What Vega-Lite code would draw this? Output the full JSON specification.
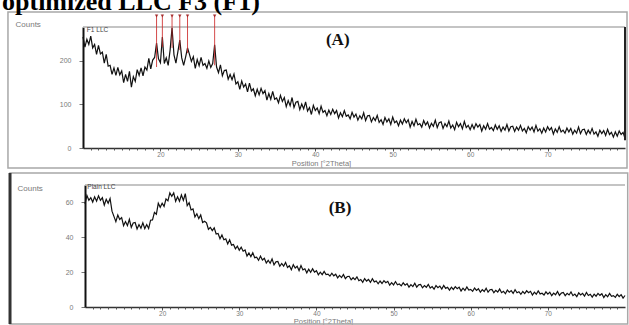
{
  "$schema": "https://vega.github.io/schema/vega-lite/v6.json",
  "width": 629,
  "height": 325,
  "autosize": {"type": "none"},
  "padding": 0,
  "background": "white",
  "config": {
    "view": {"stroke": null},
    "axis": {
      "grid": false,
      "labelFont": "Liberation Sans",
      "titleFont": "Liberation Sans",
      "labelColor": "#7a7a7a",
      "titleColor": "#7a7a7a",
      "labelFontSize": 7,
      "titleFontSize": 8,
      "titleFontWeight": "normal",
      "labelOverlap": false,
      "labelFlush": false
    }
  },
  "datasets": {
    "panelA": [
      {"two_theta":10,"counts":255},{"two_theta":10.25,"counts":232},{"two_theta":10.5,"counts":250},{"two_theta":10.75,"counts":238},{"two_theta":11,"counts":257},{"two_theta":11.25,"counts":230},{"two_theta":11.5,"counts":238},{"two_theta":11.75,"counts":215},{"two_theta":12,"counts":236},{"two_theta":12.25,"counts":216},{"two_theta":12.5,"counts":220},{"two_theta":12.75,"counts":195},{"two_theta":13,"counts":215},{"two_theta":13.25,"counts":188},{"two_theta":13.5,"counts":190},{"two_theta":13.75,"counts":169},{"two_theta":14,"counts":184},{"two_theta":14.25,"counts":167},{"two_theta":14.5,"counts":185},{"two_theta":14.75,"counts":168},{"two_theta":15,"counts":177},{"two_theta":15.25,"counts":150},{"two_theta":15.5,"counts":169},{"two_theta":15.75,"counts":153},{"two_theta":16,"counts":176},{"two_theta":16.25,"counts":140},{"two_theta":16.5,"counts":164},{"two_theta":16.75,"counts":153},{"two_theta":17,"counts":180},{"two_theta":17.25,"counts":167},{"two_theta":17.5,"counts":184},{"two_theta":17.75,"counts":166},{"two_theta":18,"counts":186},{"two_theta":18.25,"counts":179},{"two_theta":18.5,"counts":206},{"two_theta":18.75,"counts":182},{"two_theta":19,"counts":202},{"two_theta":19.25,"counts":208},{"two_theta":19.5,"counts":241},{"two_theta":19.75,"counts":205},{"two_theta":20,"counts":196},{"two_theta":20.25,"counts":255},{"two_theta":20.5,"counts":194},{"two_theta":20.75,"counts":207},{"two_theta":21,"counts":190},{"two_theta":21.25,"counts":225},{"two_theta":21.5,"counts":276},{"two_theta":21.75,"counts":214},{"two_theta":22,"counts":195},{"two_theta":22.25,"counts":221},{"two_theta":22.5,"counts":248},{"two_theta":22.75,"counts":207},{"two_theta":23,"counts":190},{"two_theta":23.25,"counts":209},{"two_theta":23.5,"counts":230},{"two_theta":23.75,"counts":215},{"two_theta":24,"counts":199},{"two_theta":24.25,"counts":210},{"two_theta":24.5,"counts":183},{"two_theta":24.75,"counts":203},{"two_theta":25,"counts":189},{"two_theta":25.25,"counts":208},{"two_theta":25.5,"counts":190},{"two_theta":25.75,"counts":194},{"two_theta":26,"counts":183},{"two_theta":26.25,"counts":200},{"two_theta":26.5,"counts":185},{"two_theta":26.75,"counts":194},{"two_theta":27,"counts":237},{"two_theta":27.25,"counts":186},{"two_theta":27.5,"counts":173},{"two_theta":27.75,"counts":191},{"two_theta":28,"counts":166},{"two_theta":28.25,"counts":178},{"two_theta":28.5,"counts":179},{"two_theta":28.75,"counts":158},{"two_theta":29,"counts":169},{"two_theta":29.25,"counts":157},{"two_theta":29.5,"counts":170},{"two_theta":29.75,"counts":147},{"two_theta":30,"counts":152},{"two_theta":30.25,"counts":135},{"two_theta":30.5,"counts":154},{"two_theta":30.75,"counts":140},{"two_theta":31,"counts":147},{"two_theta":31.25,"counts":129},{"two_theta":31.5,"counts":149},{"two_theta":31.75,"counts":131},{"two_theta":32,"counts":136},{"two_theta":32.25,"counts":120},{"two_theta":32.5,"counts":135},{"two_theta":32.75,"counts":122},{"two_theta":33,"counts":137},{"two_theta":33.25,"counts":125},{"two_theta":33.5,"counts":132},{"two_theta":33.75,"counts":110},{"two_theta":34,"counts":125},{"two_theta":34.25,"counts":112},{"two_theta":34.5,"counts":130},{"two_theta":34.75,"counts":112},{"two_theta":35,"counts":115},{"two_theta":35.25,"counts":104},{"two_theta":35.5,"counts":121},{"two_theta":35.75,"counts":107},{"two_theta":36,"counts":116},{"two_theta":36.25,"counts":95},{"two_theta":36.5,"counts":109},{"two_theta":36.75,"counts":97},{"two_theta":37,"counts":116},{"two_theta":37.25,"counts":93},{"two_theta":37.5,"counts":105},{"two_theta":37.75,"counts":107},{"two_theta":38,"counts":88},{"two_theta":38.25,"counts":101},{"two_theta":38.5,"counts":90},{"two_theta":38.75,"counts":106},{"two_theta":39,"counts":85},{"two_theta":39.25,"counts":93},{"two_theta":39.5,"counts":77},{"two_theta":39.75,"counts":98},{"two_theta":40,"counts":86},{"two_theta":40.25,"counts":92},{"two_theta":40.5,"counts":79},{"two_theta":40.75,"counts":96},{"two_theta":41,"counts":82},{"two_theta":41.25,"counts":86},{"two_theta":41.5,"counts":74},{"two_theta":41.75,"counts":87},{"two_theta":42,"counts":77},{"two_theta":42.25,"counts":89},{"two_theta":42.5,"counts":79},{"two_theta":42.75,"counts":86},{"two_theta":43,"counts":69},{"two_theta":43.25,"counts":81},{"two_theta":43.5,"counts":72},{"two_theta":43.75,"counts":86},{"two_theta":44,"counts":73},{"two_theta":44.25,"counts":76},{"two_theta":44.5,"counts":67},{"two_theta":44.75,"counts":82},{"two_theta":45,"counts":71},{"two_theta":45.25,"counts":78},{"two_theta":45.5,"counts":64},{"two_theta":45.75,"counts":74},{"two_theta":46,"counts":67},{"two_theta":46.25,"counts":81},{"two_theta":46.5,"counts":63},{"two_theta":46.75,"counts":74},{"two_theta":47,"counts":75},{"two_theta":47.25,"counts":60},{"two_theta":47.5,"counts":70},{"two_theta":47.75,"counts":63},{"two_theta":48,"counts":75},{"two_theta":48.25,"counts":59},{"two_theta":48.5,"counts":65},{"two_theta":48.75,"counts":54},{"two_theta":49,"counts":70},{"two_theta":49.25,"counts":60},{"two_theta":49.5,"counts":67},{"two_theta":49.75,"counts":54},{"two_theta":50,"counts":71},{"two_theta":50.25,"counts":58},{"two_theta":50.5,"counts":62},{"two_theta":50.75,"counts":51},{"two_theta":51,"counts":64},{"two_theta":51.25,"counts":55},{"two_theta":51.5,"counts":67},{"two_theta":51.75,"counts":58},{"two_theta":52,"counts":65},{"two_theta":52.25,"counts":48},{"two_theta":52.5,"counts":61},{"two_theta":52.75,"counts":51},{"two_theta":53,"counts":66},{"two_theta":53.25,"counts":53},{"two_theta":53.5,"counts":56},{"two_theta":53.75,"counts":48},{"two_theta":54,"counts":63},{"two_theta":54.25,"counts":53},{"two_theta":54.5,"counts":60},{"two_theta":54.75,"counts":46},{"two_theta":55,"counts":57},{"two_theta":55.25,"counts":50},{"two_theta":55.5,"counts":64},{"two_theta":55.75,"counts":47},{"two_theta":56,"counts":58},{"two_theta":56.25,"counts":60},{"two_theta":56.5,"counts":45},{"two_theta":56.75,"counts":56},{"two_theta":57,"counts":49},{"two_theta":57.25,"counts":62},{"two_theta":57.5,"counts":46},{"two_theta":57.75,"counts":53},{"two_theta":58,"counts":42},{"two_theta":58.25,"counts":59},{"two_theta":58.5,"counts":49},{"two_theta":58.75,"counts":56},{"two_theta":59,"counts":44},{"two_theta":59.25,"counts":61},{"two_theta":59.5,"counts":47},{"two_theta":59.75,"counts":52},{"two_theta":60,"counts":42},{"two_theta":60.25,"counts":54},{"two_theta":60.5,"counts":44},{"two_theta":60.75,"counts":56},{"two_theta":61,"counts":48},{"two_theta":61.25,"counts":54},{"two_theta":61.5,"counts":39},{"two_theta":61.75,"counts":51},{"two_theta":62,"counts":43},{"two_theta":62.25,"counts":56},{"two_theta":62.5,"counts":43},{"two_theta":62.75,"counts":47},{"two_theta":63,"counts":40},{"two_theta":63.25,"counts":53},{"two_theta":63.5,"counts":43},{"two_theta":63.75,"counts":51},{"two_theta":64,"counts":38},{"two_theta":64.25,"counts":48},{"two_theta":64.5,"counts":41},{"two_theta":64.75,"counts":54},{"two_theta":65,"counts":39},{"two_theta":65.25,"counts":49},{"two_theta":65.5,"counts":50},{"two_theta":65.75,"counts":38},{"two_theta":66,"counts":48},{"two_theta":66.25,"counts":41},{"two_theta":66.5,"counts":52},{"two_theta":66.75,"counts":39},{"two_theta":67,"counts":45},{"two_theta":67.25,"counts":35},{"two_theta":67.5,"counts":49},{"two_theta":67.75,"counts":41},{"two_theta":68,"counts":48},{"two_theta":68.25,"counts":37},{"two_theta":68.5,"counts":52},{"two_theta":68.75,"counts":39},{"two_theta":69,"counts":44},{"two_theta":69.25,"counts":34},{"two_theta":69.5,"counts":46},{"two_theta":69.75,"counts":37},{"two_theta":70,"counts":49},{"two_theta":70.25,"counts":41},{"two_theta":70.5,"counts":47},{"two_theta":70.75,"counts":32},{"two_theta":71,"counts":44},{"two_theta":71.25,"counts":36},{"two_theta":71.5,"counts":49},{"two_theta":71.75,"counts":37},{"two_theta":72,"counts":41},{"two_theta":72.25,"counts":34},{"two_theta":72.5,"counts":46},{"two_theta":72.75,"counts":37},{"two_theta":73,"counts":45},{"two_theta":73.25,"counts":32},{"two_theta":73.5,"counts":41},{"two_theta":73.75,"counts":34},{"two_theta":74,"counts":48},{"two_theta":74.25,"counts":33},{"two_theta":74.5,"counts":42},{"two_theta":74.75,"counts":43},{"two_theta":75,"counts":31},{"two_theta":75.25,"counts":41},{"two_theta":75.5,"counts":33},{"two_theta":75.75,"counts":45},{"two_theta":76,"counts":32},{"two_theta":76.25,"counts":37},{"two_theta":76.5,"counts":27},{"two_theta":76.75,"counts":41},{"two_theta":77,"counts":33},{"two_theta":77.25,"counts":40},{"two_theta":77.5,"counts":29},{"two_theta":77.75,"counts":43},{"two_theta":78,"counts":31},{"two_theta":78.25,"counts":36},{"two_theta":78.5,"counts":25},{"two_theta":78.75,"counts":37},{"two_theta":79,"counts":27},{"two_theta":79.25,"counts":39},{"two_theta":79.5,"counts":31},{"two_theta":79.75,"counts":36},{"two_theta":80,"counts":22}
    ],
    "peaksA": [
      {"two_theta":19.5,"base":186},{"two_theta":20.25,"base":232},{"two_theta":21.5,"base":230},{"two_theta":22.5,"base":225},{"two_theta":23.5,"base":218},{"two_theta":27,"base":190}
    ],
    "panelB": [
      {"two_theta":10,"counts":59.2},{"two_theta":10.25,"counts":64.0},{"two_theta":10.5,"counts":61.2},{"two_theta":10.75,"counts":62.7},{"two_theta":11,"counts":60.2},{"two_theta":11.25,"counts":63.2},{"two_theta":11.5,"counts":60.7},{"two_theta":11.75,"counts":63.8},{"two_theta":12,"counts":61.2},{"two_theta":12.25,"counts":62.7},{"two_theta":12.5,"counts":58.5},{"two_theta":12.75,"counts":61.8},{"two_theta":13,"counts":59.5},{"two_theta":13.25,"counts":62.3},{"two_theta":13.5,"counts":55.0},{"two_theta":13.75,"counts":52.0},{"two_theta":14,"counts":49.0},{"two_theta":14.25,"counts":52.8},{"two_theta":14.5,"counts":50.2},{"two_theta":14.75,"counts":51.3},{"two_theta":15,"counts":46.7},{"two_theta":15.25,"counts":49.0},{"two_theta":15.5,"counts":46.7},{"two_theta":15.75,"counts":50.3},{"two_theta":16,"counts":45.7},{"two_theta":16.25,"counts":48.2},{"two_theta":16.5,"counts":48.5},{"two_theta":16.75,"counts":44.8},{"two_theta":17,"counts":47.3},{"two_theta":17.25,"counts":45.2},{"two_theta":17.5,"counts":48.3},{"two_theta":17.75,"counts":45.0},{"two_theta":18,"counts":47.3},{"two_theta":18.25,"counts":45.0},{"two_theta":18.5,"counts":49.8},{"two_theta":18.75,"counts":50.0},{"two_theta":19,"counts":54.3},{"two_theta":19.25,"counts":53.2},{"two_theta":19.5,"counts":59.5},{"two_theta":19.75,"counts":57.2},{"two_theta":20,"counts":59.5},{"two_theta":20.25,"counts":57.7},{"two_theta":20.5,"counts":62.0},{"two_theta":20.75,"counts":60.9},{"two_theta":21,"counts":65.5},{"two_theta":21.25,"counts":63.5},{"two_theta":21.5,"counts":65.5},{"two_theta":21.75,"counts":60.7},{"two_theta":22,"counts":63.3},{"two_theta":22.25,"counts":60.7},{"two_theta":22.5,"counts":64.3},{"two_theta":22.75,"counts":61.2},{"two_theta":23,"counts":65.0},{"two_theta":23.25,"counts":58.2},{"two_theta":23.5,"counts":59.8},{"two_theta":23.75,"counts":55.7},{"two_theta":24,"counts":56.3},{"two_theta":24.25,"counts":51.7},{"two_theta":24.5,"counts":53.5},{"two_theta":24.75,"counts":50.7},{"two_theta":25,"counts":52.8},{"two_theta":25.25,"counts":48.5},{"two_theta":25.5,"counts":49.2},{"two_theta":25.75,"counts":48.3},{"two_theta":26,"counts":44.6},{"two_theta":26.25,"counts":45.7},{"two_theta":26.5,"counts":43.8},{"two_theta":26.75,"counts":45.4},{"two_theta":27,"counts":41.9},{"two_theta":27.25,"counts":42.2},{"two_theta":27.5,"counts":39.2},{"two_theta":27.75,"counts":41.3},{"two_theta":28,"counts":38.6},{"two_theta":28.25,"counts":39.1},{"two_theta":28.5,"counts":36.2},{"two_theta":28.75,"counts":38.6},{"two_theta":29,"counts":35.5},{"two_theta":29.25,"counts":35.9},{"two_theta":29.5,"counts":33.4},{"two_theta":29.75,"counts":34.9},{"two_theta":30,"counts":32.6},{"two_theta":30.25,"counts":34.3},{"two_theta":30.5,"counts":32.0},{"two_theta":30.75,"counts":32.7},{"two_theta":31,"counts":29.2},{"two_theta":31.25,"counts":31.0},{"two_theta":31.5,"counts":28.9},{"two_theta":31.75,"counts":31.1},{"two_theta":32,"counts":28.3},{"two_theta":32.25,"counts":28.6},{"two_theta":32.5,"counts":26.8},{"two_theta":32.75,"counts":29.2},{"two_theta":33,"counts":27.0},{"two_theta":33.25,"counts":28.0},{"two_theta":33.5,"counts":25.2},{"two_theta":33.75,"counts":26.8},{"two_theta":34,"counts":25.1},{"two_theta":34.25,"counts":27.6},{"two_theta":34.5,"counts":24.2},{"two_theta":34.75,"counts":25.9},{"two_theta":35,"counts":26.1},{"two_theta":35.25,"counts":23.4},{"two_theta":35.5,"counts":25.0},{"two_theta":35.75,"counts":23.5},{"two_theta":36,"counts":25.6},{"two_theta":36.25,"counts":22.7},{"two_theta":36.5,"counts":23.7},{"two_theta":36.75,"counts":21.4},{"two_theta":37,"counts":24.3},{"two_theta":37.25,"counts":22.4},{"two_theta":37.5,"counts":23.4},{"two_theta":37.75,"counts":20.9},{"two_theta":38,"counts":23.8},{"two_theta":38.25,"counts":21.3},{"two_theta":38.5,"counts":21.9},{"two_theta":38.75,"counts":19.6},{"two_theta":39,"counts":21.7},{"two_theta":39.25,"counts":19.9},{"two_theta":39.5,"counts":21.9},{"two_theta":39.75,"counts":20.0},{"two_theta":40,"counts":20.8},{"two_theta":40.25,"counts":18.5},{"two_theta":40.5,"counts":20.0},{"two_theta":40.75,"counts":18.6},{"two_theta":41,"counts":20.4},{"two_theta":41.25,"counts":18.6},{"two_theta":41.5,"counts":18.9},{"two_theta":41.75,"counts":17.7},{"two_theta":42,"counts":19.4},{"two_theta":42.25,"counts":17.9},{"two_theta":42.5,"counts":18.8},{"two_theta":42.75,"counts":16.7},{"two_theta":43,"counts":18.1},{"two_theta":43.25,"counts":16.9},{"two_theta":43.5,"counts":18.7},{"two_theta":43.75,"counts":16.3},{"two_theta":44,"counts":17.5},{"two_theta":44.25,"counts":17.6},{"two_theta":44.5,"counts":15.6},{"two_theta":44.75,"counts":16.8},{"two_theta":45,"counts":15.7},{"two_theta":45.25,"counts":17.3},{"two_theta":45.5,"counts":15.1},{"two_theta":45.75,"counts":15.8},{"two_theta":46,"counts":14.2},{"two_theta":46.25,"counts":16.3},{"two_theta":46.5,"counts":14.9},{"two_theta":46.75,"counts":15.8},{"two_theta":47,"counts":14.1},{"two_theta":47.25,"counts":16.2},{"two_theta":47.5,"counts":14.4},{"two_theta":47.75,"counts":14.9},{"two_theta":48,"counts":13.3},{"two_theta":48.25,"counts":14.9},{"two_theta":48.5,"counts":13.5},{"two_theta":48.75,"counts":15.1},{"two_theta":49,"counts":13.9},{"two_theta":49.25,"counts":14.7},{"two_theta":49.5,"counts":12.5},{"two_theta":49.75,"counts":14.0},{"two_theta":50,"counts":12.7},{"two_theta":50.25,"counts":14.6},{"two_theta":50.5,"counts":12.8},{"two_theta":50.75,"counts":13.2},{"two_theta":51,"counts":12.1},{"two_theta":51.25,"counts":13.9},{"two_theta":51.5,"counts":12.5},{"two_theta":51.75,"counts":13.4},{"two_theta":52,"counts":11.4},{"two_theta":52.25,"counts":12.8},{"two_theta":52.5,"counts":11.7},{"two_theta":52.75,"counts":13.6},{"two_theta":53,"counts":11.4},{"two_theta":53.25,"counts":12.7},{"two_theta":53.5,"counts":12.9},{"two_theta":53.75,"counts":11.0},{"two_theta":54,"counts":12.3},{"two_theta":54.25,"counts":11.3},{"two_theta":54.5,"counts":13.0},{"two_theta":54.75,"counts":10.9},{"two_theta":55,"counts":11.7},{"two_theta":55.25,"counts":10.2},{"two_theta":55.5,"counts":12.3},{"two_theta":55.75,"counts":11.1},{"two_theta":56,"counts":12.0},{"two_theta":56.25,"counts":10.3},{"two_theta":56.5,"counts":12.4},{"two_theta":56.75,"counts":10.7},{"two_theta":57,"counts":11.3},{"two_theta":57.25,"counts":9.7},{"two_theta":57.5,"counts":11.4},{"two_theta":57.75,"counts":10.1},{"two_theta":58,"counts":11.7},{"two_theta":58.25,"counts":10.5},{"two_theta":58.5,"counts":11.4},{"two_theta":58.75,"counts":9.2},{"two_theta":59,"counts":10.8},{"two_theta":59.25,"counts":9.5},{"two_theta":59.5,"counts":11.5},{"two_theta":59.75,"counts":9.7},{"two_theta":60,"counts":10.1},{"two_theta":60.25,"counts":9.0},{"two_theta":60.5,"counts":10.9},{"two_theta":60.75,"counts":9.5},{"two_theta":61,"counts":10.5},{"two_theta":61.25,"counts":8.5},{"two_theta":61.5,"counts":10.0},{"two_theta":61.75,"counts":8.9},{"two_theta":62,"counts":10.8},{"two_theta":62.25,"counts":8.5},{"two_theta":62.5,"counts":9.9},{"two_theta":62.75,"counts":10.1},{"two_theta":63,"counts":8.2},{"two_theta":63.25,"counts":9.6},{"two_theta":63.5,"counts":8.6},{"two_theta":63.75,"counts":10.3},{"two_theta":64,"counts":8.2},{"two_theta":64.25,"counts":9.0},{"two_theta":64.5,"counts":7.6},{"two_theta":64.75,"counts":9.7},{"two_theta":65,"counts":8.5},{"two_theta":65.25,"counts":9.4},{"two_theta":65.5,"counts":7.8},{"two_theta":65.75,"counts":9.9},{"two_theta":66,"counts":8.2},{"two_theta":66.25,"counts":8.8},{"two_theta":66.5,"counts":7.3},{"two_theta":66.75,"counts":8.9},{"two_theta":67,"counts":7.7},{"two_theta":67.25,"counts":9.3},{"two_theta":67.5,"counts":8.2},{"two_theta":67.75,"counts":9.0},{"two_theta":68,"counts":6.9},{"two_theta":68.25,"counts":8.5},{"two_theta":68.5,"counts":7.3},{"two_theta":68.75,"counts":9.2},{"two_theta":69,"counts":7.5},{"two_theta":69.25,"counts":7.9},{"two_theta":69.5,"counts":6.9},{"two_theta":69.75,"counts":8.7},{"two_theta":70,"counts":7.4},{"two_theta":70.25,"counts":8.5},{"two_theta":70.5,"counts":6.5},{"two_theta":70.75,"counts":8.0},{"two_theta":71,"counts":7.0},{"two_theta":71.25,"counts":8.9},{"two_theta":71.5,"counts":6.7},{"two_theta":71.75,"counts":8.0},{"two_theta":72,"counts":8.3},{"two_theta":72.25,"counts":6.5},{"two_theta":72.5,"counts":7.8},{"two_theta":72.75,"counts":6.9},{"two_theta":73,"counts":8.6},{"two_theta":73.25,"counts":6.5},{"two_theta":73.5,"counts":7.4},{"two_theta":73.75,"counts":5.9},{"two_theta":74,"counts":8.1},{"two_theta":74.25,"counts":6.9},{"two_theta":74.5,"counts":7.8},{"two_theta":74.75,"counts":6.2},{"two_theta":75,"counts":8.4},{"two_theta":75.25,"counts":6.6},{"two_theta":75.5,"counts":7.3},{"two_theta":75.75,"counts":5.7},{"two_theta":76,"counts":7.4},{"two_theta":76.25,"counts":6.2},{"two_theta":76.5,"counts":7.8},{"two_theta":76.75,"counts":6.7},{"two_theta":77,"counts":7.6},{"two_theta":77.25,"counts":5.4},{"two_theta":77.5,"counts":7.1},{"two_theta":77.75,"counts":5.9},{"two_theta":78,"counts":7.8},{"two_theta":78.25,"counts":6.1},{"two_theta":78.5,"counts":6.5},{"two_theta":78.75,"counts":5.5},{"two_theta":79,"counts":7.3},{"two_theta":79.25,"counts":6.0},{"two_theta":79.5,"counts":7.1},{"two_theta":79.75,"counts":5.1},{"two_theta":80,"counts":6.6}
    ]
  },
  "layer": [
    {
      "resolve": {"axis": {"x": "independent"}},
      "layer": [
        {
          "data": {"name": "panelA"},
          "mark": {"type": "line", "color": "#111111", "strokeWidth": 1.2},
          "encoding": {
            "x": {
              "field": "two_theta", "type": "quantitative",
              "scale": {"domain": [10, 80], "range": [83, 625], "nice": false, "zero": false},
              "axis": {
                "orient": "bottom", "offset": -177,
                "values": [20, 30, 40, 50, 60, 70],
                "tickSize": 3,
                "tickColor": "#555555",
                "domainColor": "#333333", "domainWidth": 1.5,
                "labelPadding": 0, "labelFontSize": 6.5,
                "title": "Position [°2Theta]", "titleFontSize": 7.5,
                "titleX": 321, "titleY": 15, "titleAlign": "center", "titleBaseline": "middle"
              }
            },
            "y": {
              "field": "counts", "type": "quantitative",
              "scale": {"domain": [0, 278], "range": [148, 27], "nice": false, "zero": false},
              "axis": {
                "orient": "left", "offset": -83,
                "values": [0, 100, 200],
                "tickSize": 4, "tickColor": "#777777",
                "domainColor": "#111111", "domainWidth": 2,
                "labelPadding": 8,
                "title": "Counts",
                "titleAngle": 0, "titleX": -68, "titleY": 24, "titleAlign": "left", "titleBaseline": "middle"
              }
            }
          }
        },
        {
          "data": {"values": [{}]},
          "mark": {"type": "rule", "color": "#b0b0b0", "strokeWidth": 1.5},
          "encoding": {
            "x": {
              "datum": 10, "type": "quantitative",
              "axis": {
                "orient": "bottom", "offset": -177,
                "values": [11,12,13,14,15,16,17,18,19,21,22,23,24,25,26,27,28,29,31,32,33,34,35,36,37,38,39,41,42,43,44,45,46,47,48,49,51,52,53,54,55,56,57,58,59,61,62,63,64,65,66,67,68,69,71,72,73,74,75,76,77,78,79],
                "labels": false, "domain": false, "title": null,
                "tickSize": 2, "tickColor": "#555555"
              }
            },
            "x2": {"datum": 80},
            "y": {"datum": 278, "type": "quantitative"}
          }
        },
        {
          "data": {"values": [{}]},
          "mark": {"type": "rect", "fill": "white", "fillOpacity": 0, "stroke": "#a8a8a8", "strokeWidth": 1.5},
          "encoding": {
            "x": {"datum": 0.31, "type": "quantitative", "axis": null},
            "x2": {"datum": 80.26},
            "y": {"datum": 312.5, "type": "quantitative"},
            "y2": {"datum": -46}
          }
        },
        {
          "data": {"values": [{}]},
          "mark": {"type": "rule", "color": "#222222", "strokeWidth": 2},
          "encoding": {
            "x": {"datum": 80, "type": "quantitative", "axis": null},
            "y": {"datum": 18, "type": "quantitative"},
            "y2": {"datum": 278}
          }
        },
        {
          "data": {"name": "peaksA"},
          "mark": {"type": "rule", "color": "#cc2b2b", "strokeWidth": 1, "opacity": 0.85},
          "encoding": {
            "x": {"field": "two_theta", "type": "quantitative", "axis": null},
            "y": {"field": "base", "type": "quantitative"},
            "y2": {"datum": 306}
          }
        },
        {
          "data": {"name": "peaksA"},
          "mark": {"type": "point", "shape": "triangle-down", "filled": true, "size": 12, "color": "#a02828", "opacity": 0.9},
          "encoding": {
            "x": {"field": "two_theta", "type": "quantitative", "axis": null},
            "y": {"datum": 303, "type": "quantitative"}
          }
        },
        {
          "data": {"values": [{"label": "(A)"}]},
          "mark": {"type": "text", "font": "Liberation Serif", "fontWeight": "bold", "fontSize": 17, "align": "center", "baseline": "middle", "color": "#111111"},
          "encoding": {
            "text": {"field": "label"},
            "x": {"datum": 42.9, "type": "quantitative", "axis": null},
            "y": {"datum": 248, "type": "quantitative"}
          }
        },
        {
          "data": {"values": [{"label": "F1 LLC"}]},
          "mark": {"type": "text", "font": "Liberation Sans", "fontSize": 6.5, "align": "left", "baseline": "middle", "color": "#444444"},
          "encoding": {
            "text": {"field": "label"},
            "x": {"datum": 10.5, "type": "quantitative", "axis": null},
            "y": {"datum": 271, "type": "quantitative"}
          }
        },
        {
          "data": {"values": [{"label": "optimized LLC F3 (F1)"}]},
          "mark": {"type": "text", "font": "Liberation Serif", "fontWeight": "bold", "fontSize": 26, "align": "left", "baseline": "alphabetic", "color": "#000000"},
          "encoding": {
            "text": {"field": "label"},
            "x": {"datum": -0.46, "type": "quantitative", "axis": null},
            "y": {"datum": 317, "type": "quantitative"}
          }
        }
      ]
    },
    {
      "resolve": {"axis": {"x": "independent"}},
      "layer": [
        {
          "data": {"name": "panelB"},
          "mark": {"type": "line", "color": "#111111", "strokeWidth": 1.2},
          "encoding": {
            "x": {
              "field": "two_theta", "type": "quantitative",
              "scale": {"domain": [10, 80], "range": [85, 625], "nice": false, "zero": false},
              "axis": {
                "orient": "bottom", "offset": -18,
                "values": [20, 30, 40, 50, 60, 70],
                "tickSize": 3,
                "tickColor": "#555555",
                "domainColor": "#333333", "domainWidth": 1.5,
                "labelPadding": 0, "labelFontSize": 6.5,
                "title": "Position [°2Theta]", "titleFontSize": 7.5,
                "titleX": 323, "titleY": 14, "titleAlign": "center", "titleBaseline": "middle"
              }
            },
            "y": {
              "field": "counts", "type": "quantitative",
              "scale": {"domain": [0, 70], "range": [307, 185], "nice": false, "zero": false},
              "axis": {
                "orient": "left", "offset": -85,
                "values": [0, 20, 40, 60],
                "tickSize": 4, "tickColor": "#777777",
                "domainColor": "#111111", "domainWidth": 2,
                "labelPadding": 8,
                "title": "Counts",
                "titleAngle": 0, "titleX": -68, "titleY": 188, "titleAlign": "left", "titleBaseline": "middle"
              }
            }
          }
        },
        {
          "data": {"values": [{}]},
          "mark": {"type": "rule", "color": "#b0b0b0", "strokeWidth": 1.5},
          "encoding": {
            "x": {
              "datum": 10, "type": "quantitative",
              "axis": {
                "orient": "bottom", "offset": -18,
                "values": [11,12,13,14,15,16,17,18,19,21,22,23,24,25,26,27,28,29,31,32,33,34,35,36,37,38,39,41,42,43,44,45,46,47,48,49,51,52,53,54,55,56,57,58,59,61,62,63,64,65,66,67,68,69,71,72,73,74,75,76,77,78,79],
                "labels": false, "domain": false, "title": null,
                "tickSize": 2, "tickColor": "#555555"
              }
            },
            "x2": {"datum": 80},
            "y": {"datum": 70, "type": "quantitative"}
          }
        },
        {
          "data": {"values": [{}]},
          "mark": {"type": "rect", "fill": "white", "fillOpacity": 0, "stroke": "#a8a8a8", "strokeWidth": 1.5},
          "encoding": {
            "x": {"datum": 0.28, "type": "quantitative", "axis": null},
            "x2": {"datum": 80.35},
            "y": {"datum": 76.9, "type": "quantitative"},
            "y2": {"datum": -9.75}
          }
        },
        {
          "data": {"values": [{}]},
          "mark": {"type": "rule", "color": "#333333", "strokeWidth": 3},
          "encoding": {
            "x": {"datum": 0.28, "type": "quantitative", "axis": null},
            "y": {"datum": -9.75, "type": "quantitative"},
            "y2": {"datum": 76.9}
          }
        },
        {
          "data": {"values": [{"label": "(B)"}]},
          "mark": {"type": "text", "font": "Liberation Serif", "fontWeight": "bold", "fontSize": 17, "align": "center", "baseline": "middle", "color": "#111111"},
          "encoding": {
            "text": {"field": "label"},
            "x": {"datum": 43.06, "type": "quantitative", "axis": null},
            "y": {"datum": 56.8, "type": "quantitative"}
          }
        },
        {
          "data": {"values": [{"label": "Plain LLC"}]},
          "mark": {"type": "text", "font": "Liberation Sans", "fontSize": 6.5, "align": "left", "baseline": "middle", "color": "#444444"},
          "encoding": {
            "text": {"field": "label"},
            "x": {"datum": 10.3, "type": "quantitative", "axis": null},
            "y": {"datum": 68.9, "type": "quantitative"}
          }
        }
      ]
    }
  ],
  "resolve": {
    "scale": {"x": "independent", "y": "independent"},
    "axis": {"x": "independent", "y": "independent"}
  }
}
